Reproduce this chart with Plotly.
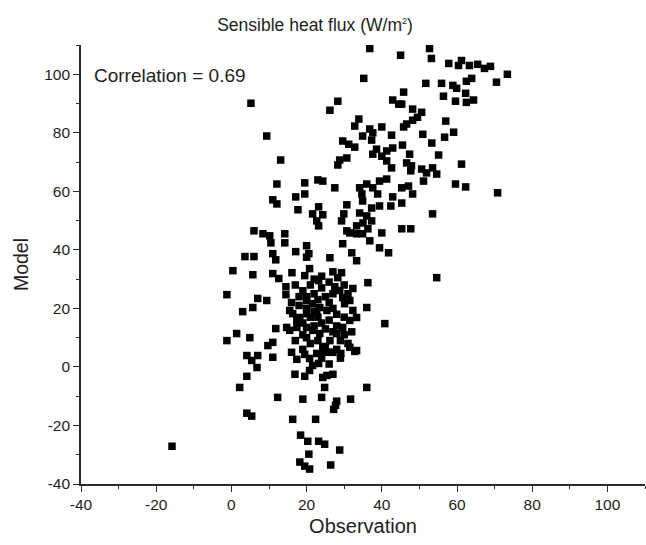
import plotly.graph_objects as go

# Observation (x) and Model (y) values
obs_top = [36.8,45,52.7,53.2,57.8,61.2,60.4,63.3,65.5,67.3,68.9,73.4,70.5,35.2,51.7,55.9,58.9,59.9,62.5,63.9,
           45.8,56.4,62.3,59.6,62.5,64.4,45.3,48.2,50.6,49.5,48.2,46.6,45.8,57,59.1,56.7,50.9,53.3,45.5,55.1,
           47.4,46.6,47.9,47.7,61.2,50.6,51.9,53.5,54.6,51.1,59.6,62.3,45.3,47.1,48.2,45.3,70.8,53.5,45.3,47.7,54.6]
mod_top = [108.8,106.5,108.8,105.4,103.7,104.7,103,103,103.4,102,102.7,100,97.3,98.6,96.9,96.9,96.2,95.2,97.6,98.6,
           93.9,92.5,93.5,90.8,90.4,91.2,89.8,88.1,87,85.3,84.3,83,82,84,80.2,78.5,79.5,76.5,75.8,72.4,
           72.7,69.7,68.7,67,69.3,67.6,66.3,68,65.9,63.5,62.5,61.5,61.2,61.8,59.1,56,59.5,52.3,47.2,47.2,30.5]

obs_mid = [5.2,28.3,26.2,42.9,44.5,33.9,32.8,40,36.8,37.6,34.9,37.3,42.6,29.6,31.2,32.8,38.6,41.3,42.9,37.6,
           40,30.7,28.8,28.3,41.3,42.6,13.1,9.4,12.1,19.5,23,24.3,27.5,17.1,19.5,11,12.1,17.7,23.2,21.6,
           24.3,22.7,23.2,6,8.4,10.2,14.2,30.7,29.9,29.3,30.7,34.1,36,37.6,39.4,41.3,34.7,34.9,37.3,38.9,
           39.4,42.9,42.4,34.1,36,37.3,35,33.3,36.3,40]
mod_mid = [90.1,90.8,87.7,91.2,89.8,84.7,82.3,82,81.3,80,78.9,77.5,79.2,77.2,76.1,75.1,74.4,73.8,74.8,72.7,
           72,71.4,70.7,69,70.4,68,70.7,78.9,62.5,62.9,63.9,63.5,61.2,58.1,59.1,57.1,55.7,53.7,54.7,52.3,
           52,49.9,48.2,46.5,45.5,44.8,45.5,55.4,52.3,49.9,46.5,61.2,62.5,61.2,63.5,64.2,59.1,56.7,54.3,59.1,
           55,58.1,55,52.6,51.6,49.9,49.2,48.2,47.2,45.8]

obs_low = [10.5,14.2,3.6,6,11,11.8,0.4,5.7,11,12.6,14.5,-1.2,7,9.4,5.7,3,14.5,17.1,20,20.6,
           20,16.1,19.5,20.8,23.2,26.2,27,29.3,28.3,31.5,33.3,34.9,36.8,39.4,41.8,29.6,32,33.3,36.3,32.3,
           36,40.8]
mod_low = [42.4,42.4,37.7,37.7,38.7,36.6,32.9,31.5,31.9,30.2,27.4,24.7,23.4,22.7,20.3,18.9,24.7,39.4,41.4,38.7,
           37.5,32.2,31.2,33.6,29.5,37.3,32.5,32.2,30.5,45.8,45.5,45.5,43.1,40.7,39,42.1,39,36.3,28.8,26.8,
           20.3,14.8]

obs_core = [27.5,28.8,29.6,31.5,30.1,32.3,33.3,31.5,29.6,28,26.2,24.3,22.7,20,21.6,23.5,25.4,22.7,20,18.2,
            16.3,15.5,17.4,20,21.6,23.5,20,17.4,14.7,15.5,19,21,22,24,18,25,26,27,23,21,
            24,26,28,25,22,19,21,23,25,27,29,30,24,26,28,20,22,18,17,16,
            19,22,24,26,30,31,27,28,30,32,31,29,26,19,17,16,20,23]
mod_core = [27.4,26.1,23.7,22.7,21.6,19.3,16.9,15.9,13.5,11.4,9,6.7,4.6,22.7,21.6,20.3,19.3,18.2,18.2,16.9,
            18.2,19.3,15.9,13.5,12.5,11.4,10,13.5,13.5,12.5,26,28,25,27,24,24,22,20,23,17,
            15,16,18,13,14,11,8,9,7,12,9,11,3,5,6,20,19,21,28,22,
            6,30,31,29,28,25,25,14,17,12,8,3,1,15,9,5,24,17]

obs_bot = [11.8,1.4,-1.2,4.9,9.7,11,4.1,5.4,7,11,6.8,4.1,2.2,12.3,4.1,5.4,-15.8,
           17.4,19.5,20.8,21.6,23.2,24.3,27,29.1,32.8,31.5,33.3,
           16.9,19.5,20.8,24.3,25.4,27,24.8,36,19,24,28,27.7,27.2,31.7,16.3,22.4,18.4,20.3,23.2,24.8,28.8,20.6,
           18.2,19.5,20.8,26.4]
mod_bot = [13.1,11.4,9,10,7.3,8.4,3.9,2.2,3.9,3.3,-0.2,-3.2,-7,-10.4,-15.8,-16.8,-27.1,
           2.6,4.3,2.9,0.5,1.2,5,5,4.6,5.3,6.7,5.6,
           -2.5,-3.2,-1.2,-3.6,-2.9,-2.5,-7,-7,-11,-10.4,-11.7,-13.1,-14.5,-11,-17.9,-17.9,-23.3,-25.4,-25.4,-26.4,-28.4,-29.8,
           -32.5,-33.9,-34.9,-33.5]

observation = obs_top + obs_mid + obs_low + obs_core + obs_bot
model = mod_top + mod_mid + mod_low + mod_core + mod_bot

x_ticks = [-40, -20, 0, 20, 40, 60, 80, 100]
y_ticks = [-40, -20, 0, 20, 40, 60, 80, 100]

FONT = "Liberation Sans, Arial, sans-serif"
TXT = "#1e1e1e"

fig = go.Figure(go.Scatter(
    x=observation, y=model, mode="markers",
    marker=dict(symbol="square", size=7.5, color="#000000", line=dict(width=0)),
    showlegend=False,
))

axis_common = dict(
    showline=True, linecolor="#2a2a2a", linewidth=1.6,
    ticks="outside", ticklen=6, tickwidth=1.4, tickcolor="#2a2a2a",
    showgrid=False, zeroline=False, mirror=False,
    tickfont=dict(family=FONT, size=15.5, color=TXT),
)

fig.update_layout(
    width=646, height=545,
    margin=dict(l=81, r=1, t=45, b=61),
    paper_bgcolor="white", plot_bgcolor="white",
    font=dict(family=FONT, color=TXT),
    title=dict(text="Sensible heat flux (W/m<sup><span style='font-size:9px'>2</span></sup>)",
               x=315/646, xanchor="center",
               y=1-25/545, yanchor="middle", font=dict(family=FONT, size=17.5, color=TXT)),
    xaxis=dict(range=[-40, 110], tickvals=x_ticks, ticktext=[str(v) for v in x_ticks],
               minor=dict(ticks="outside", dtick=10, ticklen=3.5, tickcolor="#2a2a2a"),
               title=dict(text="Observation", font=dict(family=FONT, size=20, color=TXT), standoff=7),
               **axis_common),
    yaxis=dict(range=[-40, 110], tickvals=y_ticks, ticktext=[str(v) for v in y_ticks],
               minor=dict(ticks="outside", dtick=10, ticklen=3.5, tickcolor="#2a2a2a"),
               title=dict(text="Model", font=dict(family=FONT, size=19.5, color=TXT), standoff=10),
               **axis_common),
    annotations=[dict(text="Correlation = 0.69", x=-37, y=99.6, xref="x", yref="y",
                      xanchor="left", yanchor="middle", showarrow=False,
                      font=dict(family=FONT, size=19, color=TXT))],
)

fig.write_html("out.html")
